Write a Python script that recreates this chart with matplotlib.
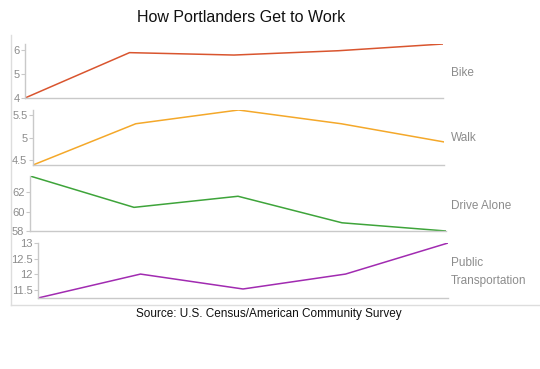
import matplotlib
matplotlib.use("Agg")
from matplotlib import pyplot as plt
from matplotlib.lines import Line2D

plt.rcParams['font.family'] = ['Liberation Sans', 'DejaVu Sans']

# data
years = [2006, 2007, 2008, 2009, 2010]
bike = [4.0, 5.89, 5.79, 5.97, 6.25]
walk = [4.38, 5.31, 5.62, 5.31, 4.90]
drive_alone = [63.7, 60.45, 61.6, 58.85, 58.0]
public_transport = [11.23, 12.0, 11.52, 12.0, 13.0]

names = ["Bike", "Walk", "Drive Alone", "Public\nTransportation"]
series = [bike, walk, drive_alone, public_transport]
ticks = [[4, 5, 6], [4.5, 5, 5.5], [58, 60, 62], [11.5, 12, 12.5, 13]]
colors = ["#d9552f", "#f4a82a", "#3ea43a", "#a12bb1"]

# panel boxes in pixels: left, top, right, bottom
boxes = [(25, 44, 443, 98), (33, 110, 444, 165), (30, 176, 446, 231), (38, 243, 448, 298)]
label_y = [73, 138, 206, 272]

W, H = 540, 369
fig = plt.figure(figsize=(W / 100, H / 100), dpi=100)

grey = "#c9c9c9"
for vals, name, tk, col, (l, t, r, b), ly in zip(series, names, ticks, colors, boxes, label_y):
    ax = fig.add_axes([l / W, 1 - b / H, (r - l) / W, (b - t) / H])
    ax.plot(years, vals, color=col, lw=1.1, solid_joinstyle='miter')
    ax.set_xlim(years[0], years[-1])
    ax.set_ylim(min(vals), max(vals))
    ax.set_yticks(tk)
    ax.set_yticklabels([f"{v:g}" for v in tk])
    ax.set_xticks([])
    for s in ["top", "right"]:
        ax.spines[s].set_visible(False)
    for s in ["left", "bottom"]:
        ax.spines[s].set_color(grey)
        ax.spines[s].set_linewidth(1.0)
    ax.tick_params(axis='y', length=3, width=0.8, color=grey, labelcolor="#8c8c8c",
                   labelsize=8, pad=1)
    ax.patch.set_alpha(0)
    fig.text(451 / W, 1 - ly / H, name, color="#8c8c8c", fontsize=8.5,
             va='center', ha='left', linespacing=1.6)

# outer frame (left and bottom edges)
fig.add_artist(Line2D([11 / W, 11 / W], [1 - 35 / H, 1 - 305 / H], color="#dddddd", lw=1.0))
fig.add_artist(Line2D([11 / W, 1], [1 - 305 / H, 1 - 305 / H], color="#dddddd", lw=1.0))

fig.text(241 / W, 1 - 18 / H, "How Portlanders Get to Work", ha='center', va='center',
         fontsize=11.5, color="#111111")
fig.text(269 / W, 1 - 314 / H, "Source: U.S. Census/American Community Survey",
         ha='center', va='center', fontsize=8.5, color="#111111")

fig.savefig("out.png", dpi=100)
